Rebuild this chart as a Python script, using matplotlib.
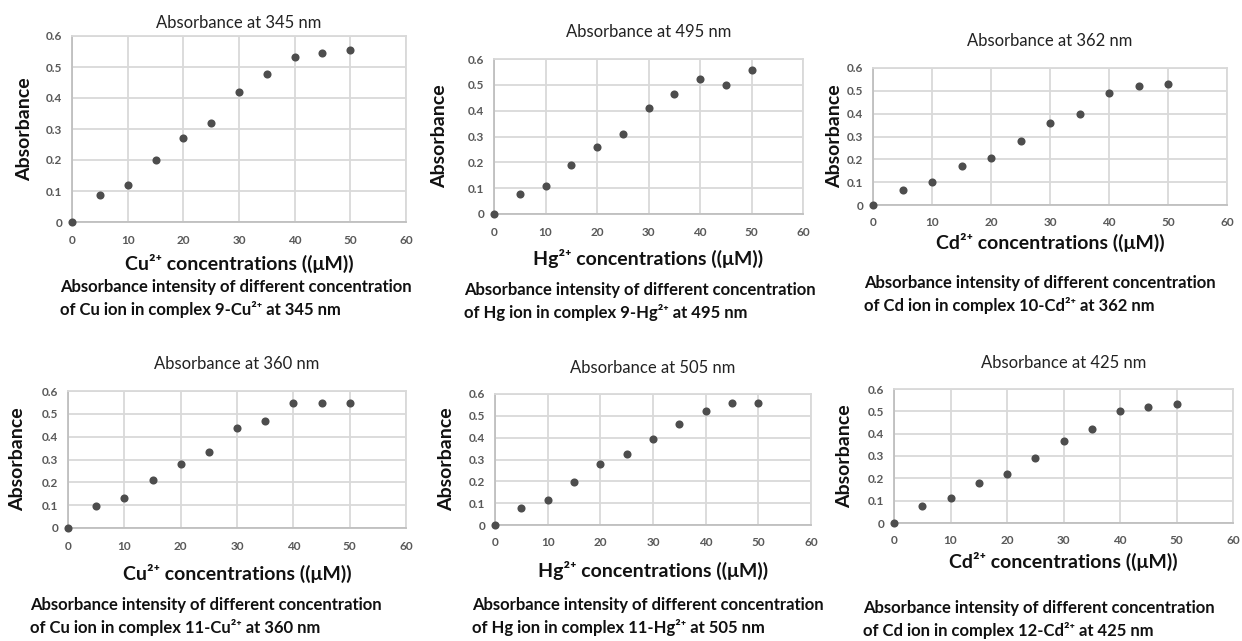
import matplotlib
matplotlib.use("Agg")
import matplotlib.pyplot as plt

plt.rcParams['font.family'] = ['Lato', 'DejaVu Sans']

W, H = 1242, 641

conc = [0, 5, 10, 15, 20, 25, 30, 35, 40, 45, 50]
x_ticks = [0, 10, 20, 30, 40, 50, 60]
y_ticks = [0, 0.1, 0.2, 0.3, 0.4, 0.5, 0.6]
y_tick_labels = ["0", "0.1", "0.2", "0.3", "0.4", "0.5", "0.6"]

cu_345 = [0, 0.088, 0.12, 0.20, 0.27, 0.319, 0.42, 0.479, 0.532, 0.544, 0.555]
hg_495 = [0, 0.077, 0.11, 0.191, 0.259, 0.311, 0.412, 0.466, 0.523, 0.501, 0.558]
cd_362 = [0, 0.064, 0.10, 0.169, 0.208, 0.28, 0.358, 0.40, 0.489, 0.52, 0.532]
cu_360 = [0, 0.095, 0.13, 0.209, 0.28, 0.332, 0.439, 0.467, 0.547, 0.546, 0.548]
hg_505 = [0, 0.079, 0.115, 0.198, 0.281, 0.325, 0.395, 0.464, 0.521, 0.558, 0.561]
cd_425 = [0, 0.074, 0.11, 0.18, 0.22, 0.293, 0.366, 0.42, 0.50, 0.52, 0.533]

titles = ["Absorbance at 345 nm", "Absorbance at 495 nm", "Absorbance at 362 nm",
          "Absorbance at 360 nm", "Absorbance at 505 nm", "Absorbance at 425 nm"]
xlabels = ["Cu²⁺ concentrations ((μM))", "Hg²⁺ concentrations ((μM))",
           "Cd²⁺ concentrations ((μM))", "Cu²⁺ concentrations ((μM))",
           "Hg²⁺ concentrations ((μM))", "Cd²⁺ concentrations ((μM))"]
captions = [
    "Absorbance intensity of different concentration\nof Cu ion in complex 9-Cu²⁺ at 345 nm",
    "Absorbance intensity of different concentration\nof Hg ion in complex 9-Hg²⁺ at 495 nm",
    "Absorbance intensity of different concentration\nof Cd ion in complex 10-Cd²⁺ at 362 nm",
    "Absorbance intensity of different concentration\nof Cu ion in complex 11-Cu²⁺ at 360 nm",
    "Absorbance intensity of different concentration\nof Hg ion in complex 11-Hg²⁺ at 505 nm",
    "Absorbance intensity of different concentration\nof Cd ion in complex 12-Cd²⁺ at 425 nm",
]
series = [cu_345, hg_495, cd_362, cu_360, hg_505, cd_425]

# layout in pixels: (left, right, top, bottom), title y, ylabel x, xlabel y, caption top y, caption left x
layout = [
    dict(box=(72, 406, 36, 222), ty=23, yx=25, xly=263, cy=279, cx=60),
    dict(box=(494, 803, 59, 214), ty=32, yx=440, xly=258, cy=282, cx=464),
    dict(box=(873, 1227, 68, 205), ty=41, yx=835, xly=242, cy=275, cx=864),
    dict(box=(68, 406, 391, 528), ty=364, yx=18, xly=573, cy=597, cx=30),
    dict(box=(495, 811, 394, 525), ty=368, yx=447, xly=570, cy=597, cx=472),
    dict(box=(894, 1233, 389, 523), ty=363, yx=845, xly=561, cy=600, cx=863),
]

fig = plt.figure(figsize=(W / 100, H / 100), dpi=100)
fig.patch.set_facecolor('white')

grid_c = '#d9d9d9'
tick_c = '#595959'

for i in range(6):
    L = layout[i]
    l, r, t, b = L['box']
    ax = fig.add_axes([l / W, 1 - b / H, (r - l) / W, (b - t) / H])
    ax.scatter(conc, series[i], s=34, color='#4d4d4d', zorder=3, clip_on=False, linewidths=0)
    ax.set_xlim(0, 60)
    ax.set_ylim(0, 0.6)
    ax.set_xticks(x_ticks)
    ax.set_yticks(y_ticks)
    ax.set_yticklabels(y_tick_labels)
    ax.grid(True, color=grid_c, linewidth=1.3)
    ax.set_axisbelow(True)
    for sp in ax.spines.values():
        sp.set_color(grid_c)
        sp.set_linewidth(1.3)
    ax.spines['left'].set_color('#bfbfbf')
    ax.spines['bottom'].set_color('#bfbfbf')
    ax.tick_params(length=0, labelsize=8.5, labelcolor=tick_c)
    ax.tick_params(axis='x', pad=9)
    ax.tick_params(axis='y', pad=7)
    for lab in ax.get_xticklabels() + ax.get_yticklabels():
        lab.set_fontweight('bold')
    cxm = (l + r) / 2
    fig.text(cxm / W, 1 - L['ty'] / H, titles[i], ha='center', va='center', fontsize=12, color='#222222')
    fig.text(L['yx'] / W, 1 - (t + b) / 2 / H, "Absorbance", rotation=90, ha='center', va='center',
             fontsize=14, fontweight='bold', color='#111111')
    fig.text(cxm / W, 1 - L['xly'] / H, xlabels[i], ha='center', va='center', fontsize=14,
             fontweight='bold', color='#111111')
    fig.text(L['cx'] / W, 1 - L['cy'] / H, captions[i], ha='left', va='top', fontsize=12,
             fontweight='bold', color='#111111', linespacing=1.4)

fig.savefig('out.png', dpi=100, facecolor='white')
